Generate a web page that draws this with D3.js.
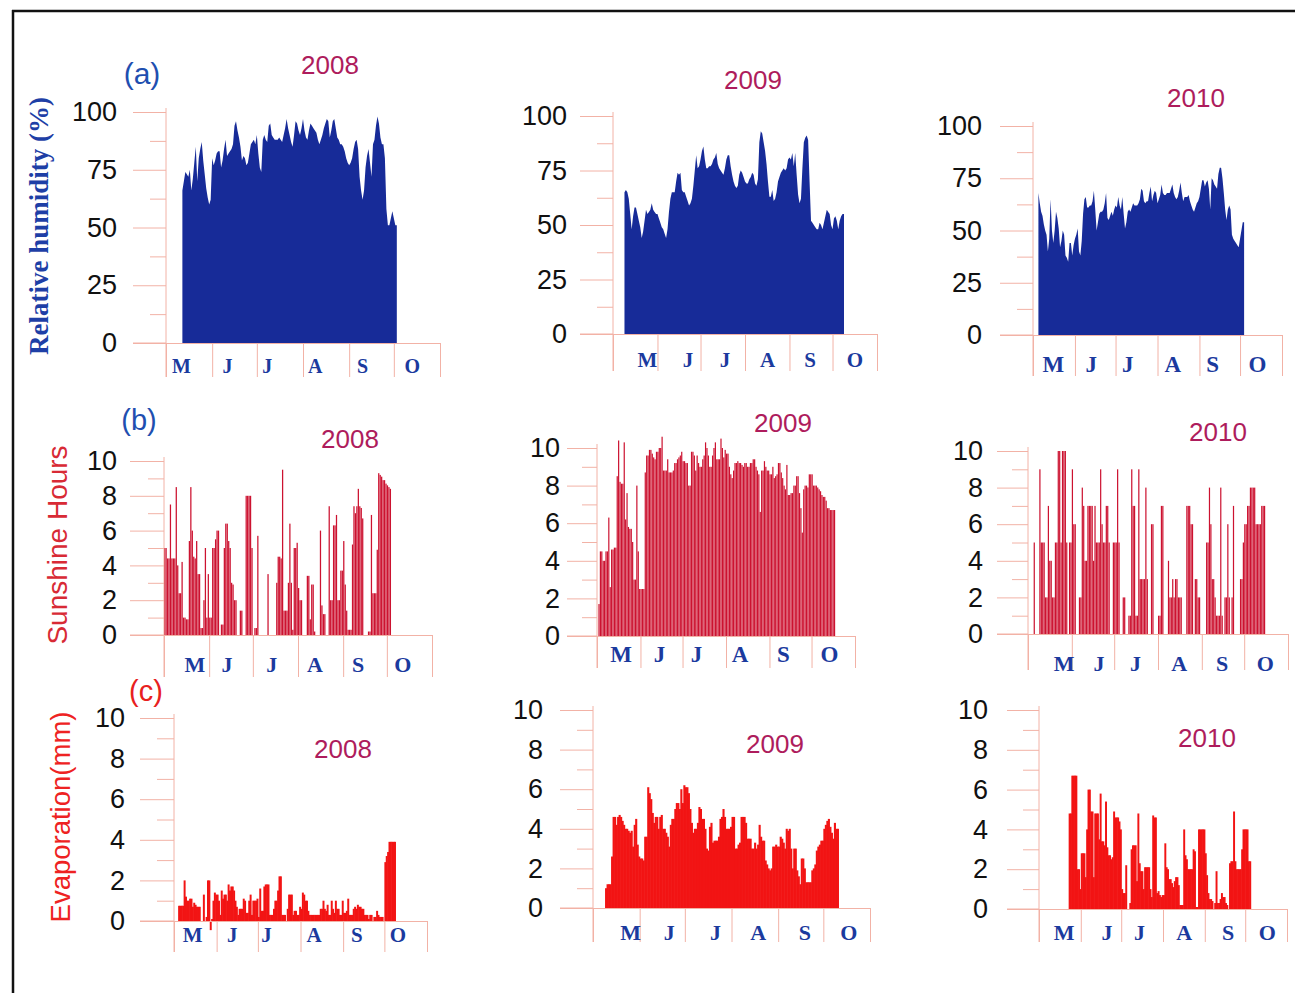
<!DOCTYPE html>
<html><head><meta charset="utf-8">
<script src="https://cdn.jsdelivr.net/npm/d3@7"></script>
<style>html,body{margin:0;padding:0;background:#fff}svg{display:block}</style>
</head><body>
<svg id="chart" width="1295" height="993"></svg>
<script>
// ---------------- DATA ----------------
const monthLabels = ["M","J","J","A","S","O"];
const years = [2008, 2009, 2010];
const rhTicks = [0, 25, 50, 75, 100];
const tenTicks = [0, 2, 4, 6, 8, 10];

// Relative humidity (%), daily
const rh2008Start = [2008, 5, 12];
const rh2008 = [66,70,74,73,72,75,66,71,78,85, 70,80,84,87,79,73,67,63,60,62,
  80,77,79,82,83,83,76,79,84,88, 81,82,83,84,86,94,96,92,89,85,
  79,81,80,77,78,82,86,87,88,86, 90,82,76,74,88,90,88,87,94,95,
  90,89,88,88,88,89,88,87,90,93, 97,93,90,87,85,90,96,95,92,90,
  93,97,92,89,88,92,95,94,93,92, 91,88,86,88,90,93,95,97,96,89,
  92,96,97,93,89,88,86,86,85,83, 80,78,77,78,80,84,87,88,84,72,
  66,62,66,76,81,84,78,72,86,88, 94,98,95,89,86,86,80,58,51,51,
  54,57,54,51];
const rh2009Start = [2009, 5, 9];
const rh2009 = [65,66,65,62,55,48,54,58,58,55, 52,49,44,47,52,57,55,56,57,60,
  57,56,55,55,53,51,49,48,46,44, 48,56,62,65,65,65,70,74,73,74,
  66,65,65,63,61,59,60,62,68,75, 82,76,77,80,84,86,80,76,76,77,
  77,78,80,81,83,78,76,75,74,73, 76,80,82,82,77,73,70,68,67,68,
  73,75,74,72,70,69,69,71,72,74, 73,69,68,71,88,93,92,88,84,78,
  70,63,63,66,61,62,65,70,72,74, 75,76,75,76,80,81,80,83,77,83,
  73,64,60,62,76,88,90,91,89,70, 52,51,50,49,48,48,51,50,48,51,
  54,57,56,55,50,48,53,54,52,48, 52,54,55];
const rh2010Start = [2010, 5, 5];
const rh2010 = [68,63,59,57,53,50,48,40,46,65, 50,44,50,59,56,51,42,45,50,48,
  38,37,35,44,44,38,43,46,48,51, 40,38,45,58,65,66,61,61,62,62,
  64,69,60,50,54,58,59,59,60,63, 68,56,55,57,59,57,60,62,61,66,
  62,60,66,58,51,54,59,60,59,61, 63,62,62,62,63,65,70,69,64,63,
  64,64,68,71,64,67,69,68,63,65, 67,72,68,67,67,68,68,68,70,72,
  68,66,65,66,69,73,68,64,66,66, 66,67,64,62,60,59,61,63,64,66,
  70,74,74,71,73,74,70,60,75,74, 72,71,70,77,80,80,75,68,60,55,
  60,62,60,48,46,45,44,43,42,46, 50,54];

// Sunshine hours, daily
const sun2008Start = [2008, 5, 1];
const sun2008 = [5.0,5.0,4.4,4.4,7.5,4.4,4.4,4.4,8.5,4.0, 2.4,2.4,4.2,1.0,1.0,0.9,0.9,5.4,8.5,6.0,
  4.5,4.4,5.4,3.5,3.5,0.4,0.4,2.0,5.0,1.0, 3.5,1.0,1.0,5.0,5.0,5.5,6.0,6.0,0,0.6,
  0.6,5.0,6.4,6.4,5.4,5.0,3.0,2.9,2.0,2.0, 0,0,1.4,1.4,0,0,8.0,8.0,8.0,8.0,
  5.0,0,0.4,0.4,5.7,0,0,0,0,0, 0,3.5,0,0,0,0,0,3.0,4.5,4.5,
  4.4,9.5,1.4,1.4,1.4,3.0,6.4,3.0,0.3,5.0, 5.0,5.3,2.7,2.0,2.0,0,0,0,3.4,3.4,
  0.9,2.9,2.9,0.2,0,0,0,6.0,1.7,1.2, 1.2,0,0,7.4,2.0,2.0,6.3,6.3,6.9,2.0,
  2.0,3.7,3.7,5.4,2.9,1.4,0.3,0.3,0.3,5.2, 7.4,7.0,7.4,8.4,7.4,7.3,6.7,0,0,0,
  0.2,0.2,6.9,2.4,2.4,2.4,4.9,9.3,9.2,9.1, 8.9,8.9,8.7,8.6,8.5,8.4];
const sun2009Start = [2009, 5, 2];
const sun2009 = [1.7,4.5,4.5,4.0,4.0,4.5,4.5,6.3,2.6,4.6, 4.6,4.7,4.7,8.5,10.4,8.2,8.1,8.1,10.3,6.2,
  7.6,5.8,5.7,5.7,5.0,3.0,3.0,8.0,4.5,2.5, 2.5,2.5,2.5,8.7,9.6,9.6,9.9,9.9,9.7,9.5,
  9.4,9.8,9.8,10.0,10.0,10.6,8.8,8.8,8.8,9.4, 8.7,8.7,8.7,8.8,9.2,9.2,9.4,9.5,9.6,9.8,
  9.3,9.3,9.2,9.2,8.0,8.0,9.8,9.8,9.6,8.8, 9.6,9.2,9.0,9.0,9.4,9.6,10.3,10.0,9.6,9.0,
  9.0,9.6,10.0,10.3,9.4,9.4,9.4,10.5,10.0,9.5, 9.9,9.7,9.7,9.0,8.6,8.4,8.8,9.2,9.2,9.3,
  9.2,9.2,9.1,9.0,9.2,9.2,9.0,9.0,9.2,9.2, 9.4,9.4,9.0,8.8,8.6,6.6,8.8,8.8,9.3,9.0,
  8.8,8.8,8.6,8.6,9.0,8.4,8.5,8.6,9.2,9.2, 8.7,8.4,8.0,7.8,9.1,7.5,7.5,7.6,7.6,8.0,
  8.0,8.5,8.5,7.6,6.8,5.5,7.8,8.0,8.0,7.9, 8.6,8.6,8.6,8.0,8.0,8.0,7.9,7.8,7.7,7.5,
  7.4,7.4,7.2,6.8,6.8,6.7,6.7,6.7,6.7];
const sun2010Start = [2010, 5, 5];
const sun2010 = [5,0,0,0,9,5,5,5,2,2, 7,4,4,2,2,5,5,10,10,5, 10,10,10,5,0,5,5,9,6,6,
  0,0,2,2,8,7,4,4,7,7, 7,7,4,7,5,5,5,9,6,5, 5,7,7,5,0,0,5,5,5,9,
  5,0,0,2,2,0,0,1,1,9, 7,7,1,1,9,3,3,3,3,8, 3,0,0,6,6,0,0,0,1,1,
  7,7,0,0,0,4,2,2,3,2, 3,3,2,2,2,0,0,0,7,7, 7,6,6,0,3,3,2,2,0,0,
  0,0,5,5,8,6,3,3,2,1, 1,1,8,1,0,2,2,6,2,0, 2,7,0,0,0,0,3,3,5,6,
  6,7,7,8,8,8,8,6,6,6, 6,7,7,7];

// Evaporation (mm), daily
const evap2008Start = [2008, 5, 4];
const evap2008 = [0.75,0.75,0.75,0.75,2.0,1.2,1.0,1.0,1.1,1.1, 0.7,0.9,0.8,0.7,0.7,0.7,0,0,1.3,0,
  0.2,2.0,2.0,-0.45,0.1,1.0,1.4,1.3,1.3,1.0, 0.3,1.5,1.1,1.3,1.3,1.0,1.8,1.5,1.7,1.7,
  1.5,1.0,0.7,0.3,0.6,0.6,0.6,1.1,1.0,0.4, 0.4,1.0,1.3,0.3,1.0,1.0,1.0,1.1,0.2,1.6,
  0.5,0.5,1.7,1.8,1.8,1.8,0.3,0.3,0.3,0.6, 1.0,1.0,1.5,2.2,2.2,0.3,0.3,0.3,0,0.6,
  1.3,1.3,1.3,0.3,0.5,0.5,0.3,0.3,0.7,0.6, 1.4,1.3,1.0,1.0,0.5,0.3,0.3,0.3,0.3,0.3,
  0.3,0.3,0.3,0.6,0.6,1.0,0.6,0.5,0.8,0.3, 0.3,1.0,0.6,0.4,1.0,0.6,0.6,0.3,0.3,1.0,
  0.4,0.4,0.5,1.1,0.3,0.3,0.3,0.6,0.7,0.6, 0.8,0.7,0.7,0.6,0.6,0.3,0.3,0.3,0.1,0.3,
  0.3,0,0.2,0.2,0.5,0.3,0.2,0.2,0.2,0, 2.9,3.2,3.4,3.9,3.9,3.9,3.9,3.9];
const evap2009Start = [2009, 5, 9];
const evap2009 = [1.0,1.2,1.2,1.2,2.6,4.6,4.6,4.2,4.6,4.7, 4.6,4.4,4.2,4.0,4.0,3.9,3.8,3.9,3.1,4.2,
  4.5,3.2,2.6,2.5,2.5,2.4,3.6,3.6,6.1,5.8, 5.5,4.8,4.3,4.6,4.6,4.0,4.6,4.7,4.0,4.0,
  3.8,3.6,3.1,4.2,4.5,4.5,5.0,5.3,5.3,5.0, 6.0,5.3,6.2,6.1,6.1,5.8,5.0,4.3,3.8,4.0,
  4.0,4.3,5.1,5.0,4.5,4.5,4.0,3.0,2.9,4.1, 4.3,3.3,3.4,3.4,3.4,3.6,4.5,4.6,5.0,4.6,
  4.0,4.0,4.0,4.1,4.6,4.6,3.0,3.0,3.2,3.3, 4.6,4.6,4.6,4.3,3.5,3.5,3.5,3.0,3.0,3.3,
  3.0,3.2,4.2,3.6,3.4,3.4,2.4,2.2,2.0,1.9, 2.0,3.1,3.1,3.2,3.1,3.1,3.6,3.5,3.3,3.0,
  4.0,3.9,4.0,3.0,2.0,3.0,3.0,1.9,1.6,1.2, 2.5,2.5,2.0,1.3,1.3,1.3,1.3,1.9,2.0,2.2,
  2.9,3.1,3.2,3.4,3.4,4.0,4.2,4.4,4.5,4.1, 3.8,3.5,4.3,4.0,4.0];
const evap2010Start = [2010, 5, 23];
const evap2010 = [4.8,4.8,6.7,6.7,6.7,6.7,2.0,2.0,1.0,2.8, 2.8,2.8,1.6,4.0,6.0,6.0,4.9,4.9,1.6,4.8,
  4.8,4.8,3.5,5.8,3.4,3.4,3.2,5.4,3.1,2.7, 2.7,2.5,2.6,4.9,4.6,4.6,4.6,4.4,4.0,1.0,
  0.8,0.8,2.2,0,0,0.3,3.0,3.2,3.2,3.2, 1.4,4.8,2.3,1.9,1.9,1.0,2.1,2.1,2.1,2.1,
  1.0,0.6,4.7,4.6,4.6,0.8,0.9,0.7,0.6,0.7, 0.7,3.3,2.1,2.0,1.5,1.5,1.3,1.1,1.4,1.6,
  1.6,1.2,0.2,0.2,0.2,4.0,2.7,2.5,2.0,2.0, 2.0,2.0,3.0,2.9,0.1,0.1,4.0,4.0,4.0,4.0,
  4.0,2.8,1.7,0.8,0.5,0.5,0.4,0,0.3,1.9, 0.3,0.3,0.5,0.8,0.6,0.6,0.3,0.2,0,2.3,
  2.4,2.4,4.9,2.4,2.0,2.0,2.0,2.0,3.0,4.0, 4.0,4.0,4.0,2.4,2.4];

// ---------------- LAYOUT ----------------
const svg = d3.select("#chart");
const AX = "#f2b2a6";
const COL = {rh:"#172b98", sun:"#cc1230", evap:"#f21414"};

const panels = [
 {kind:"rh", year:2008, start:rh2008Start, values:rh2008, axisX:166, xEnd:440, y0:343, yTop:112, tickLeft:133, minorLeft:150, labelRight:117, sepBottom:377, monthBase:373, monthSize:20, monthDx:[-7,-7,-12,-10,-9,-4], yearX:330, yearY:74},
 {kind:"rh", year:2009, start:rh2009Start, values:rh2009, axisX:613, xEnd:877, y0:334, yTop:116, tickLeft:580, minorLeft:597, labelRight:567, sepBottom:371, monthBase:367, monthSize:21, monthDx:[13,9,3,1,-1,1], yearX:753, yearY:89},
 {kind:"rh", year:2010, start:rh2010Start, values:rh2010, axisX:1033, xEnd:1282, y0:335, yTop:126, tickLeft:1000, minorLeft:1017, labelRight:982, sepBottom:376, monthBase:372, monthSize:23, monthDx:[0,-4,-8,-5,-7,-3], yearX:1196, yearY:107},
 {kind:"sun", year:2008, start:sun2008Start, values:sun2008, axisX:164, xEnd:432, y0:635, yTop:461, tickLeft:130, minorLeft:148, labelRight:117, sepBottom:677, monthBase:672, monthSize:22, monthDx:[9,-4,-3,-5,-7,-6], yearX:350, yearY:448},
 {kind:"sun", year:2009, start:sun2009Start, values:sun2009, axisX:597, xEnd:855, y0:636, yTop:448, tickLeft:567, minorLeft:582, labelRight:560, sepBottom:668, monthBase:662, monthSize:23, monthDx:[3,-2,-7,-7,-7,-3], yearX:783, yearY:432},
 {kind:"sun", year:2010, start:sun2010Start, values:sun2010, axisX:1028, xEnd:1288, y0:634, yTop:451, tickLeft:997, minorLeft:1012, labelRight:983, sepBottom:670, monthBase:671, monthSize:22, monthDx:[15,6,0,0,-1,0], yearX:1218, yearY:441},
 {kind:"evap", year:2008, start:evap2008Start, values:evap2008, axisX:174, xEnd:427, y0:921, yTop:718, tickLeft:140, minorLeft:157, labelRight:125, sepBottom:952, monthBase:942, monthSize:21, monthDx:[-2,-5,-12,-7,-7,-7], yearX:343, yearY:758},
 {kind:"evap", year:2009, start:evap2009Start, values:evap2009, axisX:593, xEnd:870, y0:908, yTop:710, tickLeft:560, minorLeft:577, labelRight:543, sepBottom:942, monthBase:940, monthSize:22, monthDx:[15,7,8,4,4,3], yearX:775, yearY:753},
 {kind:"evap", year:2010, start:evap2010Start, values:evap2010, axisX:1039, xEnd:1287, y0:909, yTop:710, tickLeft:1007, minorLeft:1023, labelRight:988, sepBottom:942, monthBase:940, monthSize:22, monthDx:[5,6,-2,1,3,2], yearX:1207, yearY:747}
];

// frame (top + left rule of the scanned page)
svg.append("line").attr("x1",12).attr("x2",1295).attr("y1",11).attr("y2",11).attr("stroke","#111").attr("stroke-width",2.5);
svg.append("line").attr("x1",13).attr("x2",13).attr("y1",10).attr("y2",993).attr("stroke","#111").attr("stroke-width",2.5);

panels.forEach(p => {
  const g = svg.append("g");
  const yMax = p.kind === "rh" ? 100 : 10;
  const x = d3.scaleTime().domain([new Date(p.year,4,1), new Date(p.year,10,1)]).range([p.axisX, p.xEnd]);
  const y = d3.scaleLinear().domain([0, yMax]).range([p.y0, p.yTop]);
  const start = new Date(p.start[0], p.start[1]-1, p.start[2]);
  const data = p.values.map((v,i) => ({date: d3.timeDay.offset(start, i), v}));

  // marks
  if (p.kind === "rh") {
    const pts = data.map(d => ({x: x(d.date), v: d.v}));
    const last = data[data.length-1];
    pts.push({x: x(d3.timeDay.offset(last.date,1)), v: last.v});
    const area = d3.area().x(d => d.x).y0(y(0)).y1(d => y(d.v)).curve(d3.curveLinear);
    g.append("path").datum(pts).attr("d", area).attr("fill", COL.rh);
  } else {
    const gapless = p.kind === "evap";
    g.append("g").selectAll("rect").data(data).join("rect")
      .attr("x", d => x(d.date))
      .attr("width", d => Math.max(0.6, x(d3.timeDay.offset(d.date,1)) - x(d.date) + (gapless ? 0.6 : -0.2)))
      .attr("y", d => Math.min(y(d.v), y(0)))
      .attr("height", d => Math.abs(y(0) - y(d.v)))
      .attr("fill", COL[p.kind]);
  }

  // y axis: major ticks with labels
  const major = p.kind === "rh" ? rhTicks : tenTicks;
  const minor = d3.range(0, yMax + 0.001, p.kind === "rh" ? 12.5 : 1).filter(v => !major.includes(v));
  const yAx = g.append("g").attr("transform", `translate(${p.axisX},0)`)
    .call(d3.axisLeft(y).tickValues(major).tickSize(p.axisX - p.tickLeft).tickPadding(p.tickLeft - p.labelRight).tickSizeOuter(0));
  yAx.select(".domain").remove();
  yAx.selectAll("line").attr("stroke", AX);
  yAx.selectAll("text").attr("font-family","'Liberation Sans', Arial, sans-serif").attr("font-size",27).attr("fill","#111");
  const yMin = g.append("g").attr("transform", `translate(${p.axisX},0)`)
    .call(d3.axisLeft(y).tickValues(minor).tickSize(p.axisX - p.minorLeft).tickFormat(""));
  yMin.select(".domain").remove();
  yMin.selectAll("line").attr("stroke", AX);

  // vertical axis line
  g.append("line").attr("x1",p.axisX).attr("x2",p.axisX).attr("y1",p.yTop-4).attr("y2",p.sepBottom).attr("stroke",AX);

  // x axis: month separators
  const monthStarts = d3.range(4, 11).map(m => new Date(p.year, m, 1));
  const xAx = g.append("g").attr("transform", `translate(0,${p.y0})`)
    .call(d3.axisBottom(x).tickValues(monthStarts).tickSize(p.sepBottom - p.y0).tickSizeOuter(0).tickFormat(""));
  xAx.selectAll("line").attr("stroke", AX);
  xAx.select(".domain").attr("stroke", AX);
  g.append("line").attr("x1",p.tickLeft).attr("x2",p.axisX).attr("y1",p.y0).attr("y2",p.y0).attr("stroke",AX);

  // month labels
  g.append("g").selectAll("text").data(monthLabels).join("text")
    .attr("x", (m,i) => x(new Date(p.year, 4+i, 16)) + p.monthDx[i])
    .attr("y", p.monthBase)
    .attr("text-anchor","middle")
    .attr("font-family","'Liberation Serif', 'Times New Roman', serif")
    .attr("font-weight","bold").attr("font-size",p.monthSize).attr("fill","#1b3a9e")
    .text(m => m);

  // year label
  g.append("text").attr("x",p.yearX).attr("y",p.yearY).attr("text-anchor","middle")
    .attr("font-family","'Liberation Sans', Arial, sans-serif").attr("font-size",26).attr("fill","#ae1c5c")
    .text(p.year);
});

// panel letters
const letters = [
  {t:"(a)", x:142, y:84, c:"#1f4fb0", s:30},
  {t:"(b)", x:139, y:430, c:"#1f4fb0", s:29},
  {t:"(c)", x:146, y:701, c:"#e82020", s:29}
];
svg.selectAll("text.letter").data(letters).join("text").attr("class","letter")
  .attr("x",d=>d.x).attr("y",d=>d.y).attr("text-anchor","middle")
  .attr("font-family","'Liberation Sans', Arial, sans-serif").attr("font-size",d=>d.s).attr("fill",d=>d.c).text(d=>d.t);

// y titles
const titles = [
  {t:"Relative humidity (%)", x:48, y:226, c:"#1e3fa6", s:27, f:"'Liberation Serif', 'Times New Roman', serif", w:"bold"},
  {t:"Sunshine Hours", x:67, y:545, c:"#d82a35", s:28, f:"'Liberation Sans', Arial, sans-serif", w:"normal"},
  {t:"Evaporation(mm)", x:70, y:817, c:"#ee2222", s:27.5, f:"'Liberation Sans', Arial, sans-serif", w:"normal"}
];
svg.selectAll("text.ytitle").data(titles).join("text").attr("class","ytitle")
  .attr("transform", d => `translate(${d.x},${d.y}) rotate(-90)`)
  .attr("text-anchor","middle").attr("font-family",d=>d.f).attr("font-weight",d=>d.w)
  .attr("font-size",d=>d.s).attr("fill",d=>d.c).text(d=>d.t);
</script>
</body></html>
